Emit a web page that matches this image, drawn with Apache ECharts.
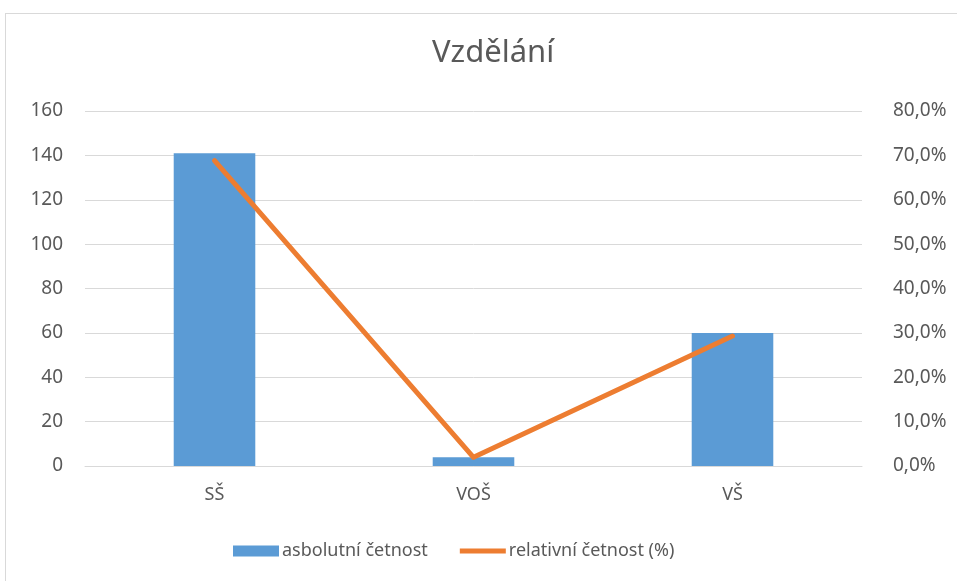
<!DOCTYPE html>
<html>
<head>
    <meta charset="utf-8">
    <script src="https://cdn.jsdelivr.net/npm/echarts@6/dist/echarts.min.js"></script>
    <style>
        body { margin: 0; background: #fff; }
        #frame { position: absolute; left: 5px; top: 13px; width: 960px; height: 580px; border: 1px solid #d9d9d9; }
        #main { position: absolute; left: 0; top: 0; width: 957px; height: 581px; }
    </style>
</head>
<body>
<div id="frame"></div>
<div id="main"></div>

<script type="text/javascript">
    // data
    var categories = ['SŠ', 'VOŠ', 'VŠ'];
    var absolutni = [141, 4, 60];
    var relativni = [68.8, 1.95, 29.3];

    var chartDom = document.getElementById('main');
    var myChart = echarts.init(chartDom);
    var font = 'Noto Sans, sans-serif';
    var option;

    option = {
        textStyle: { fontFamily: font },
        title: {
            text: 'Vzdělání',
            left: 427,
            top: 33,
            textStyle: { fontSize: 31, fontWeight: 'normal', color: '#595959', fontFamily: font }
        },
        legend: {
            bottom: 16,
            left: 228,
            itemGap: 32,
            itemWidth: 46,
            itemHeight: 11,
            textStyle: { fontSize: 18, color: '#595959', padding: [0, 0, 0, -2] },
            data: [
                { name: 'asbolutní četnost', icon: 'rect' },
                { name: 'relativní četnost (%)', icon: 'path://M0,0 L46,0 L46,5 L0,5 Z' }
            ]
        },
        grid: { left: 85, right: 95, top: 111, bottom: 115 },
        xAxis: {
            type: 'category',
            data: categories,
            axisLine: { lineStyle: { color: '#d9d9d9', width: 1 } },
            axisTick: { show: false },
            axisLabel: { fontSize: 18, color: '#595959', margin: 20 }
        },
        yAxis: [
            {
                type: 'value',
                min: 0,
                max: 160,
                interval: 20,
                axisLine: { show: false },
                axisTick: { show: false },
                splitLine: { lineStyle: { color: '#d9d9d9', width: 1 } },
                axisLabel: { fontSize: 19, color: '#595959', margin: 22 }
            },
            {
                type: 'value',
                min: 0,
                max: 80,
                interval: 10,
                position: 'right',
                axisLine: { show: false },
                axisTick: { show: false },
                splitLine: { show: false },
                axisLabel: {
                    fontSize: 19,
                    color: '#595959',
                    margin: 31,
                    formatter: function (v) { return v.toFixed(1).replace('.', ',') + '%'; }
                }
            }
        ],
        series: [
            {
                name: 'asbolutní četnost',
                type: 'bar',
                barWidth: '31.5%',
                itemStyle: { color: '#5b9bd5' },
                data: absolutni
            },
            {
                name: 'relativní četnost (%)',
                type: 'line',
                yAxisIndex: 1,
                symbol: 'none',
                lineStyle: { color: '#ed7d31', width: 5, cap: 'round', join: 'round' },
                itemStyle: { color: '#ed7d31' },
                data: relativni
            }
        ]
    };

    option && myChart.setOption(option);
</script>
</body>
</html>
